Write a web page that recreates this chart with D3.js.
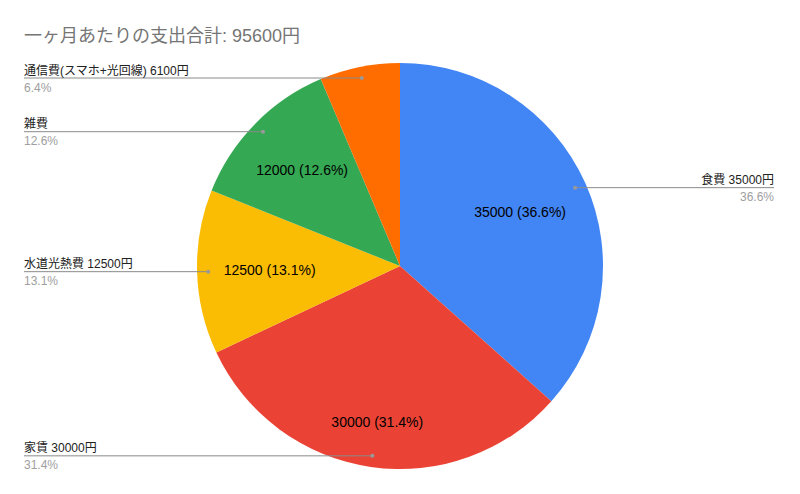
<!DOCTYPE html>
<html lang="ja">
<head>
<meta charset="utf-8">
<title>一ヶ月あたりの支出</title>
<script src="https://cdn.jsdelivr.net/npm/d3@7"></script>
<style>
  body { margin: 0; background: #fff; }
  text { font-family: Arial, "Liberation Sans", "Noto Sans CJK JP", sans-serif; }
</style>
</head>
<body>
<script>
// data (category names as written in the sheet)
var categories = ["食費 35000円", "家賃 30000円", "水道光熱費 12500円", "雑費", "通信費(スマホ+光回線) 6100円"];
var values = [35000, 30000, 12500, 12000, 6100];
var colors = ["#4285F4", "#EA4335", "#FBBC04", "#34A853", "#FF6D01"];

var w = 800, h = 494;
var cx = 400, cy = 266, R = 203;
var total = d3.sum(values);

var svg = d3.select("body").append("svg")
    .attr("width", w)
    .attr("height", h);

svg.append("rect").attr("width", w).attr("height", h).attr("fill", "#fff");

svg.append("text")
    .attr("x", 24)
    .attr("y", 42)
    .attr("font-size", "18px")
    .attr("fill", "#757575")
    .text("一ヶ月あたりの支出合計: " + total + "円");

var data = categories.map(function(c, i) {
    return {name: c, value: values[i], color: colors[i]};
});

var pie = d3.pie().sort(null).value(function(d) { return d.value; });
var arcs = pie(data);
var arc = d3.arc().innerRadius(0).outerRadius(R);
var pct = function(d) { return (d.data.value / total * 100).toFixed(1) + "%"; };

var g = svg.append("g").attr("transform", "translate(" + cx + "," + cy + ")");

g.selectAll("path.slice")
    .data(arcs)
    .enter()
    .append("path")
    .attr("class", "slice")
    .attr("d", arc)
    .attr("fill", function(d) { return d.data.color; });

// value labels inside the slices (too-thin slices get none)
arcs.forEach(function(d) {
    if (d.endAngle - d.startAngle < 0.5) return;
    var a = (d.startAngle + d.endAngle) / 2;
    var ux = Math.sin(a), uy = -Math.cos(a);
    var t = g.append("text")
        .attr("font-size", "14px")
        .attr("fill", "#000")
        .attr("text-anchor", "middle")
        .text(d.data.value + " (" + pct(d) + ")");
    var tw = t.node().getComputedTextLength(), th = 13;
    // push label out until its far corner sits near the rim
    var lo = 0, hi = R;
    for (var k = 0; k < 40; k++) {
        var m = (lo + hi) / 2;
        var px = m * ux, py = m * uy;
        var far = Math.hypot(Math.abs(px) + tw / 2, Math.abs(py) + th / 2);
        if (far > R * 0.87) hi = m; else lo = m;
    }
    t.attr("x", lo * ux).attr("y", lo * uy + 5);
});

// leader lines + outside labels
arcs.forEach(function(d) {
    var a = (d.startAngle + d.endAngle) / 2;
    var dx = cx + Math.sin(a) * R * 0.945;
    var dy = cy - Math.cos(a) * R * 0.945;
    var right = a < Math.PI;
    var ex = right ? 774 : 24;

    svg.append("line")
        .attr("x1", ex).attr("y1", dy)
        .attr("x2", dx).attr("y2", dy)
        .attr("stroke", "#8a8a8a")
        .attr("stroke-width", 1);
    svg.append("circle")
        .attr("cx", dx).attr("cy", dy).attr("r", 2)
        .attr("fill", "#999");

    svg.append("text")
        .attr("x", ex)
        .attr("y", dy - 3.5)
        .attr("font-size", "12px")
        .attr("fill", "#222")
        .attr("text-anchor", right ? "end" : "start")
        .text(d.data.name);
    svg.append("text")
        .attr("x", ex)
        .attr("y", dy + 13.5)
        .attr("font-size", "12px")
        .attr("fill", "#9e9e9e")
        .attr("text-anchor", right ? "end" : "start")
        .text(pct(d));
});
</script>
</body>
</html>
